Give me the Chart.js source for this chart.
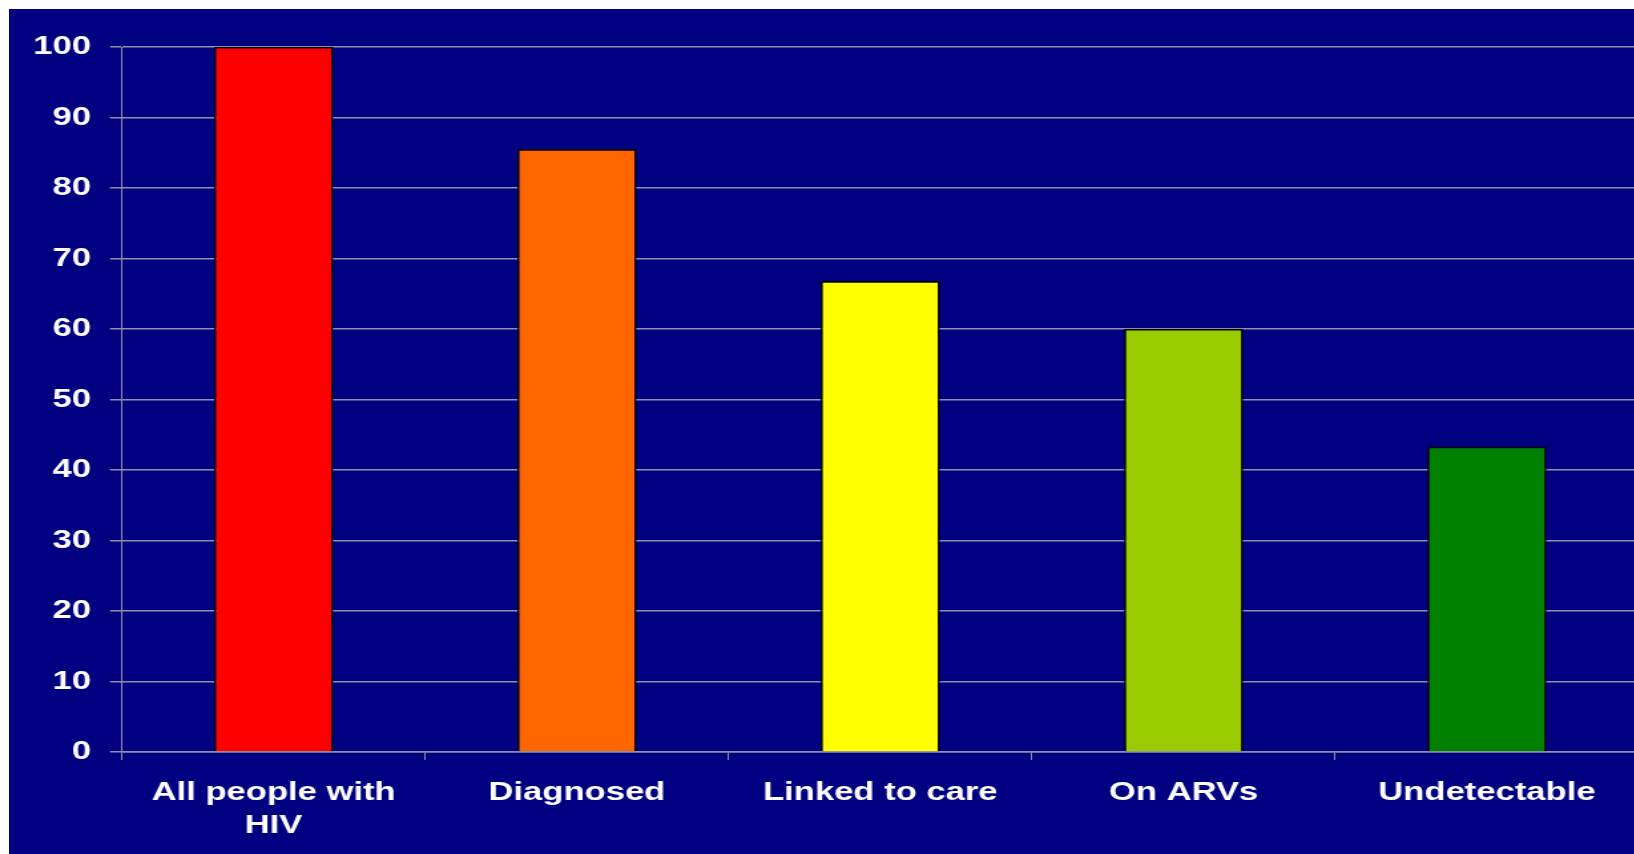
<!DOCTYPE html>
<html>
<head>
<meta charset="utf-8">
<script src="https://cdn.jsdelivr.net/npm/chart.js@4/dist/chart.umd.min.js"></script>
<style>
  html, body { margin: 0; padding: 0; background: #ffffff; overflow: hidden; width: 1634px; height: 854px; }
  #panel { position: absolute; left: 9px; top: 9px; right: 0; bottom: 0; background: #000080; }
  /* the slide artwork is stretched horizontally, so the canvas is widened with a transform */
  #wrap { position: absolute; left: 0; top: 0; width: 1232px; height: 854px; transform: scaleX(1.33); transform-origin: 0 0; }
</style>
</head>
<body>
<div id="panel"></div>
<div id="wrap"><canvas id="cascade" width="1232" height="854"></canvas></div>
<script>
// HIV care cascade, percent of all people living with HIV
const categories = [['All people with', 'HIV'], 'Diagnosed', 'Linked to care', 'On ARVs', 'Undetectable'];
const percentages = [100, 85.5, 66.8, 60, 43.3];
const barColours = ['#ff0000', '#ff6600', '#ffff00', '#99cc00', '#008000'];
const yMin = 0;
const yMax = 100;
const yStep = 10;

const lineGrey = '#9090a8';
const labelFont = { family: "'Liberation Sans', Arial, sans-serif", size: 26, weight: 'bold', lineHeight: 1.27 };

new Chart(document.getElementById('cascade'), {
  type: 'bar',
  data: {
    labels: categories,
    datasets: [{
      data: percentages,
      backgroundColor: barColours,
      borderColor: '#000000',
      borderWidth: 1.6,
      barPercentage: 0.393,
      categoryPercentage: 1
    }]
  },
  options: {
    responsive: false,
    animation: false,
    devicePixelRatio: 1,
    layout: { padding: { left: 0, right: 0, top: 47, bottom: 0 } },
    plugins: {
      legend: { display: false },
      tooltip: { enabled: false },
      title: { display: false }
    },
    scales: {
      x: {
        grid: {
          display: true,
          drawOnChartArea: false,
          drawTicks: true,
          tickLength: 8,
          offset: true,
          color: lineGrey,
          lineWidth: 1
        },
        border: { display: true, color: lineGrey, width: 1.5 },
        ticks: {
          color: '#ffffff',
          font: labelFont,
          padding: 16,
          maxRotation: 0,
          autoSkip: false
        },
        afterFit: (axis) => { axis.height = 102; }
      },
      y: {
        min: yMin,
        max: yMax,
        grid: {
          color: lineGrey,
          lineWidth: 1.5,
          drawTicks: true,
          tickLength: 9
        },
        border: { display: true, color: lineGrey, width: 1 },
        ticks: {
          stepSize: yStep,
          color: '#ffffff',
          font: { family: labelFont.family, size: 26, weight: 'bold' },
          padding: 14.3
        },
        afterFit: (axis) => { axis.width = 91.7; }
      }
    }
  }
});
</script>
</body>
</html>
